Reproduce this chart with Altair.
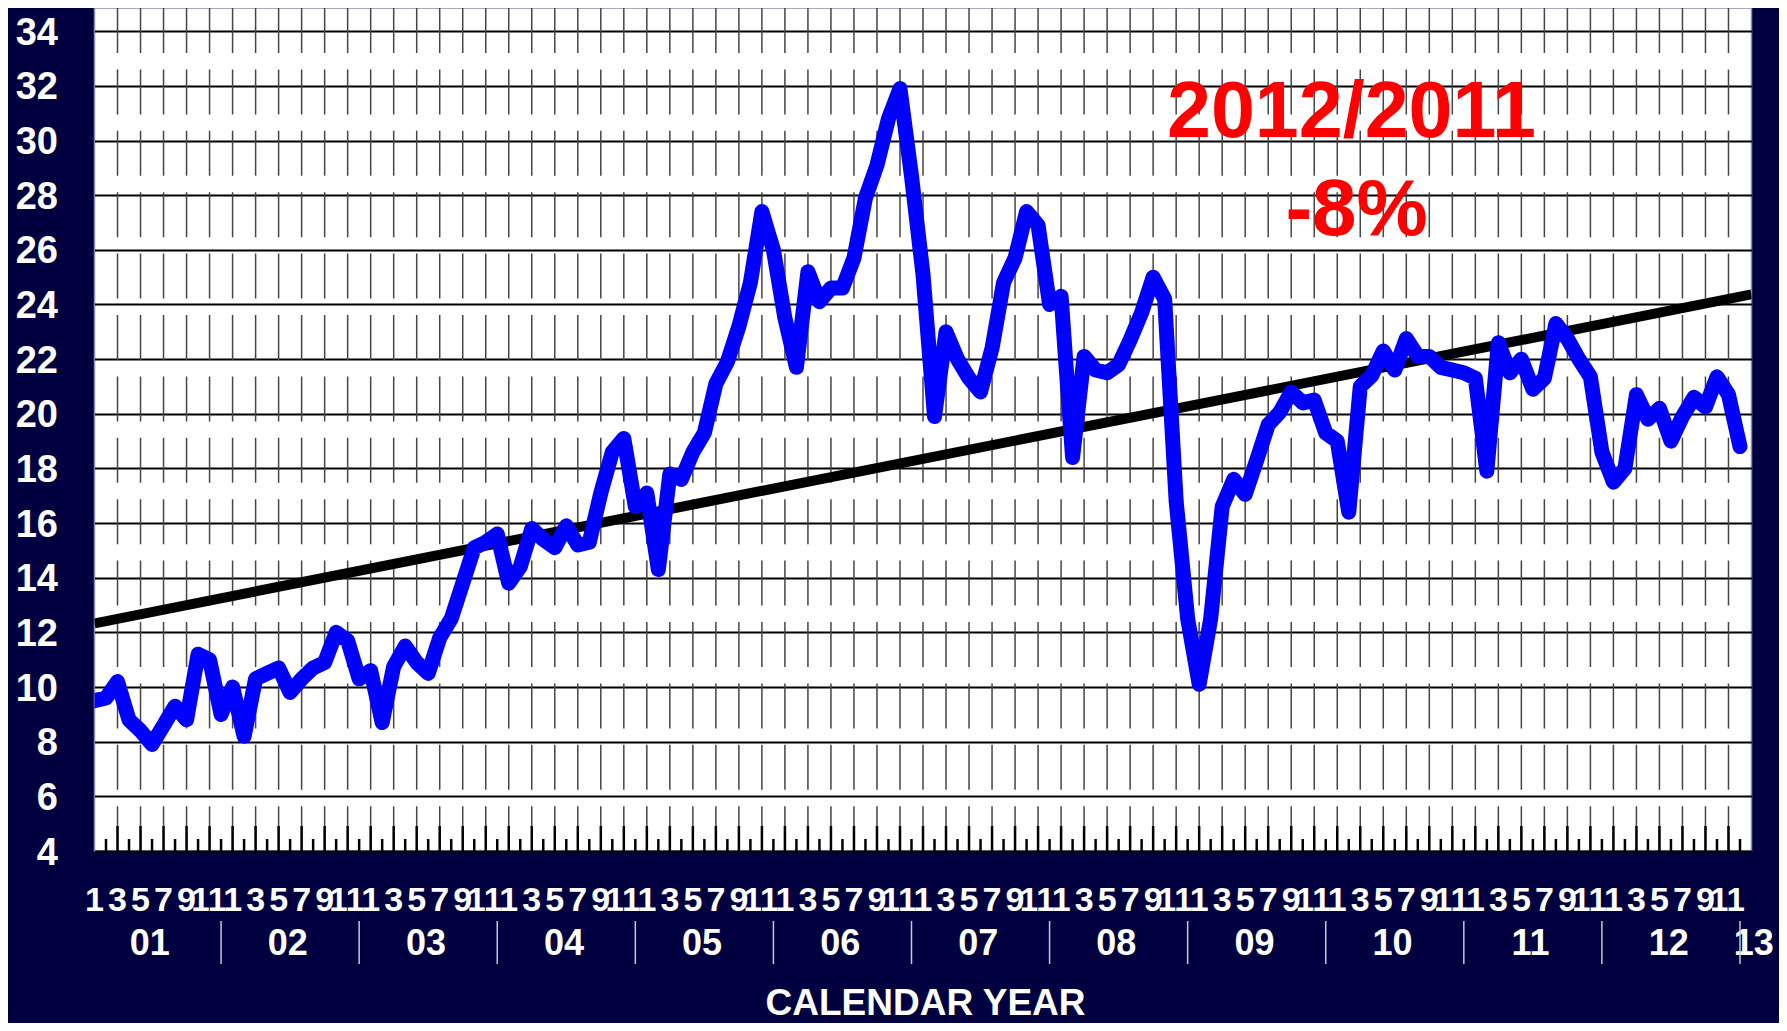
import altair as alt
import pandas as pd

# ---- data (monthly, Jan 2001 .. Dec 2012) ----
values = [
    9.5, 9.6, 10.2, 8.8, 8.4, 7.9, 8.6, 9.3, 8.8, 11.2, 11.0, 9.0,          # 2001
    10.0, 8.2, 10.3, 10.5, 10.7, 9.8, 10.3, 10.7, 10.9, 12.0, 11.7, 10.3,   # 2002
    10.6, 8.7, 10.75, 11.5, 10.9, 10.5, 11.8, 12.5, 13.8, 15.1, 15.3, 15.6,  # 2003
    13.8, 14.4, 15.8, 15.4, 15.1, 15.9, 15.2, 15.3, 17.1, 18.6, 19.1, 16.6,  # 2004
    17.1, 14.3, 17.8, 17.6, 18.6, 19.3, 21.1, 21.9, 23.2, 24.8, 27.4, 26.0,  # 2005
    23.5, 21.7, 25.2, 24.1, 24.6, 24.6, 25.7, 27.9, 29.1, 30.8, 31.9, 28.7,  # 2006
    25.1, 19.9, 23.0, 22.0, 21.3, 20.8, 22.4, 24.8, 25.7, 27.4, 26.9, 24.0,  # 2007
    24.3, 18.4, 22.1, 21.6, 21.5, 21.8, 22.7, 23.7, 25.0, 24.2, 16.8, 12.5,  # 2008
    10.1, 12.5, 16.6, 17.6, 17.05, 18.3, 19.6, 20.05, 20.8, 20.4, 20.5, 19.3,  # 2009
    19.0, 16.4, 21.0, 21.4, 22.3, 21.6, 22.75, 22.1, 22.1, 21.7, 21.6, 21.5,  # 2010
    21.3, 17.9, 22.6, 21.5, 22.0, 20.9, 21.3, 23.3, 22.75, 22.0, 21.35, 18.6,  # 2011
    17.5, 18.0, 20.7, 19.8, 20.2, 19.0, 19.9, 20.6, 20.25, 21.35, 20.7, 18.8,  # 2012
]
trend_values = [12.33, 24.37]          # trend line at Jan 2001 and Jan 2013
month_labels = ["1", "3", "5", "7", "9", "11"]
year_labels = ["01", "02", "03", "04", "05", "06", "07", "08", "09", "10", "11", "12", "13"]
y_ticks = [4, 6, 8, 10, 12, 14, 16, 18, 20, 22, 24, 26, 28, 30, 32, 34]
annotation_lines = ["2012/2011", "-8%"]
x_title = "CALENDAR YEAR"

# ---- tables ----
n = len(values)
df_line = pd.DataFrame({"t": list(range(n)), "v": values})
df_trend = pd.DataFrame({"t": [0, n], "v": trend_values})
df_grid = pd.DataFrame({"t": list(range(2, n, 2))})
df_minor = pd.DataFrame({"t": list(range(1, n, 2))})
df_mlab = pd.DataFrame({
    "t": list(range(0, n, 2)),
    "label": [month_labels[(t % 12) // 2] for t in range(0, n, 2)],
})
df_mlab_1 = df_mlab[df_mlab["label"].str.len() == 1]
df_mlab_2 = df_mlab[df_mlab["label"].str.len() == 2]
df_ylab = pd.DataFrame({
    "t": [12 * k + 4.8 for k in range(len(year_labels) - 1)] + [n + 0.2],
    "label": year_labels,
})
df_sep = pd.DataFrame({"t": [12 * k + 11 for k in range(len(year_labels) - 1)]})

W, H = 1657, 843
FONT = "Liberation Sans"
NARROW = "'Liberation Sans Narrow', 'Liberation Sans'"

xs = alt.Scale(domain=[0, n], nice=False, zero=False)
ys = alt.Scale(domain=[4, 34.85], nice=False, zero=False)
yaxis = alt.Axis(
    values=y_ticks, title=None, domain=False, ticks=False,
    labelFont=FONT, labelFontWeight="bold", labelFontSize=38, labelColor="white",
    labelPadding=37, labelBaseline="middle", labelOffset=2,
    grid=True, gridColor="black", gridWidth=2, gridOpacity=1,
)


def X():
    return alt.X("t:Q", scale=xs, axis=None)


def Y():
    return alt.Y("v:Q", scale=ys, axis=yaxis)


grid = alt.Chart(df_grid).mark_rule(
    color="#454545", strokeWidth=1.5, strokeDash=[45, 16.4]
).encode(x=X(), y=alt.value(0), y2=alt.value(H))

major_ticks = alt.Chart(df_grid).mark_rule(color="black", strokeWidth=2.5).encode(
    x=X(), y=alt.value(H - 25), y2=alt.value(H)
)
minor_ticks = alt.Chart(df_minor).mark_rule(color="black", strokeWidth=2.5).encode(
    x=X(), y=alt.value(H - 12), y2=alt.value(H)
)

trend = alt.Chart(df_trend).mark_line(color="black", strokeWidth=10, clip=True).encode(
    x=X(), y=Y()
)

line = alt.Chart(df_line).mark_line(
    color="#0000FF", strokeWidth=15, strokeJoin="round", strokeCap="round", clip=True
).encode(x=X(), y=Y())

mlab1 = alt.Chart(df_mlab_1).mark_text(
    font=FONT, fontWeight="bold", fontSize=34, color="white",
    align="center", baseline="alphabetic"
).encode(x=X(), y=alt.value(903), text="label:N")

mlab2 = alt.Chart(df_mlab_2).mark_text(
    font=NARROW, fontWeight="bold", fontSize=33, color="white",
    align="center", baseline="alphabetic", dx=-1
).encode(x=X(), y=alt.value(903), text="label:N")

ylab = alt.Chart(df_ylab).mark_text(
    font=FONT, fontWeight="bold", fontSize=36, color="white",
    align="center", baseline="alphabetic"
).encode(x=X(), y=alt.value(947), text="label:N")

sep = alt.Chart(df_sep).mark_rule(color="#c8c8d0", strokeWidth=1.5).encode(
    x=X(), y=alt.value(913), y2=alt.value(956)
)

title_df = pd.DataFrame({"label": [x_title]})
xtitle = alt.Chart(title_df).mark_text(
    font=FONT, fontWeight="bold", fontSize=37, color="white",
    align="center", baseline="alphabetic"
).encode(x=alt.value(831), y=alt.value(1007), text="label:N")

ann_df1 = pd.DataFrame({"label": [annotation_lines[0]]})
ann_df2 = pd.DataFrame({"label": [annotation_lines[1]]})
ann1 = alt.Chart(ann_df1).mark_text(
    font=FONT, fontWeight="bold", fontSize=79, color="#FF0000",
    align="center", baseline="alphabetic"
).encode(x=alt.value(1257), y=alt.value(129), text="label:N")
ann2 = alt.Chart(ann_df2).mark_text(
    font=FONT, fontWeight="bold", fontSize=80, color="#FF0000",
    align="center", baseline="alphabetic"
).encode(x=alt.value(1262), y=alt.value(227), text="label:N")

chart = alt.layer(
    grid, major_ticks, minor_ticks, trend, line, ann1, ann2,
    mlab1, mlab2, ylab, sep, xtitle
).properties(
    width=W, height=H,
    padding={"left": 86.5, "top": 0, "right": 27.5, "bottom": 172},
    autosize=alt.AutoSizeParams(type="none"),
).configure(
    background="#000040"
).configure_view(
    fill="white", stroke="#8c8cac", strokeWidth=1.5
)

chart.save("out.html", embed_options={"renderer": "svg", "actions": False})
